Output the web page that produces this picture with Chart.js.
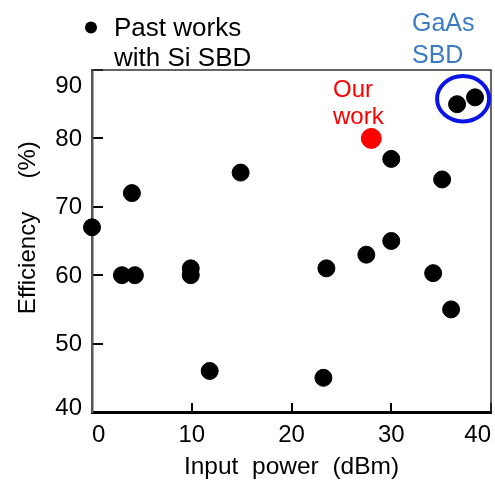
<!DOCTYPE html>
<html>
<head>
<meta charset="utf-8">
<script src="https://cdn.jsdelivr.net/npm/chart.js@4/dist/chart.umd.min.js"></script>
<style>
html, body { margin: 0; padding: 0; background: #fff; }
</style>
</head>
<body>
<canvas id="effChart" width="495" height="484"></canvas>
<script>
// past works (Si SBD + the two GaAs ones), input power in dBm / efficiency in %
var pastPower = [0, 3.0, 4.3, 4.0, 9.9, 9.9, 11.8, 14.9, 23.2, 23.5, 27.5, 30.0, 30.0, 34.2, 35.1, 36.0, 36.6, 38.4];
var pastEff   = [67, 60, 60, 72, 61, 60, 46, 75, 45, 61, 63, 77, 65, 60.3, 74, 55, 85, 86];
var ourPower = [28];
var ourEff   = [80];
var xTicks = [0, 10, 20, 30, 40];
var yTicks = [40, 50, 60, 70, 80, 90];
var gaasCenter = [37.2, 85.8]; // blue ring round the GaAs points

var FONT = '"Liberation Sans", Arial, sans-serif';

function toPoints(xs, ys) {
    return xs.map(function (x, i) { return { x: x, y: ys[i] }; });
}

var extras = {
    id: 'extras',
    beforeDatasetsDraw: function (chart) {
        var ctx = chart.ctx, a = chart.chartArea;
        ctx.save();
        // thin top / right frame
        ctx.strokeStyle = '#333';
        ctx.lineWidth = 1.5;
        ctx.beginPath();
        ctx.moveTo(a.left, a.top);
        ctx.lineTo(a.right, a.top);
        ctx.lineTo(a.right, a.bottom);
        ctx.stroke();
        ctx.restore();
    },
    afterDatasetsDraw: function (chart) {
        var ctx = chart.ctx, a = chart.chartArea;
        var xs = chart.scales.x, ys = chart.scales.y;
        ctx.save();

        // y tick labels (ends pulled inward like the original)
        ctx.font = '24px ' + FONT;
        ctx.fillStyle = '#000';
        ctx.textAlign = 'right';
        ctx.textBaseline = 'middle';
        yTicks.forEach(function (v) {
            var py = ys.getPixelForValue(v);
            if (v === yTicks[yTicks.length - 1]) py += 15;
            if (v === yTicks[0]) py -= 5;
            ctx.fillText(String(v), a.left - 10, py + 1);
        });

        // legend
        ctx.beginPath();
        ctx.arc(91, 27.5, 6, 0, Math.PI * 2);
        ctx.fill();
        ctx.font = '26px ' + FONT;
        ctx.textAlign = 'left';
        ctx.textBaseline = 'alphabetic';
        ctx.fillText('Past works', 114, 36);
        ctx.fillText('with Si SBD', 114, 66);

        // GaAs ring + label
        var cx = xs.getPixelForValue(gaasCenter[0]);
        var cy = ys.getPixelForValue(gaasCenter[1]);
        ctx.strokeStyle = '#0a14e6';
        ctx.lineWidth = 4;
        ctx.beginPath();
        ctx.ellipse(cx, cy, 26, 22.7, 0, 0, Math.PI * 2);
        ctx.stroke();
        ctx.fillStyle = '#3b7cc0';
        ctx.font = '25px ' + FONT;
        ctx.fillText('GaAs', 412, 31);
        ctx.fillText('SBD', 412, 63);

        // our work label
        ctx.fillStyle = '#ff0000';
        ctx.font = '24px ' + FONT;
        ctx.fillText('Our', 333, 97);
        ctx.fillText('work', 333, 124);
        ctx.restore();
    }
};

var ctx = document.getElementById('effChart');
var myChart = new Chart(ctx, {
    type: 'scatter',
    data: {
        datasets: [{
            label: 'Past works with Si SBD',
            data: toPoints(pastPower, pastEff),
            backgroundColor: '#000',
            borderColor: '#000',
            pointRadius: 8.5,
            pointHoverRadius: 8.5,
            clip: false
        }, {
            label: 'Our work',
            data: toPoints(ourPower, ourEff),
            backgroundColor: '#ff0000',
            borderColor: '#ff0000',
            pointRadius: 10,
            pointHoverRadius: 10,
            clip: false
        }]
    },
    options: {
        responsive: false,
        animation: false,
        events: [],
        layout: { autoPadding: false, padding: { top: 70, right: 4, left: 0, bottom: 0 } },
        plugins: {
            legend: { display: false },
            tooltip: { enabled: false }
        },
        scales: {
            x: {
                type: 'linear',
                min: 0,
                max: 40,
                afterBuildTicks: function (scale) {
                    scale.ticks = xTicks.map(function (v) { return { value: v }; });
                },
                afterFit: function (scale) {
                    scale.height = 72;
                    scale.paddingLeft = 0;
                    scale.paddingRight = 0;
                },
                border: { display: true, color: '#000', width: 3 },
                grid: { drawOnChartArea: false, drawTicks: true, tickLength: -9, color: '#000', lineWidth: 2 },
                ticks: {
                    autoSkip: false,
                    maxRotation: 0,
                    align: 'inner',
                    padding: 18,
                    color: '#000',
                    font: { family: FONT, size: 24 }
                },
                title: {
                    display: true,
                    text: 'Input  power  (dBm)',
                    color: '#000',
                    font: { family: FONT, size: 24.5 },
                    padding: { top: 0, bottom: 2 }
                }
            },
            y: {
                type: 'linear',
                min: 40,
                max: 90,
                afterBuildTicks: function (scale) {
                    scale.ticks = yTicks.map(function (v) { return { value: v }; });
                },
                afterFit: function (scale) {
                    scale.width = 92;
                    scale.paddingTop = 0;
                    scale.paddingBottom = 0;
                },
                border: { display: true, color: '#555', width: 2.5 },
                grid: { drawOnChartArea: false, drawTicks: true, tickLength: -11, color: '#000', lineWidth: 2 },
                ticks: { display: false },
                title: {
                    display: true,
                    // leading spaces push the centred title upward a bit, as in the original
                    text: '    Efficiency     (%)',
                    color: '#000',
                    font: { family: FONT, size: 24 },
                    padding: { top: 14, bottom: 0 }
                }
            }
        }
    },
    plugins: [extras]
});
</script>
</body>
</html>
